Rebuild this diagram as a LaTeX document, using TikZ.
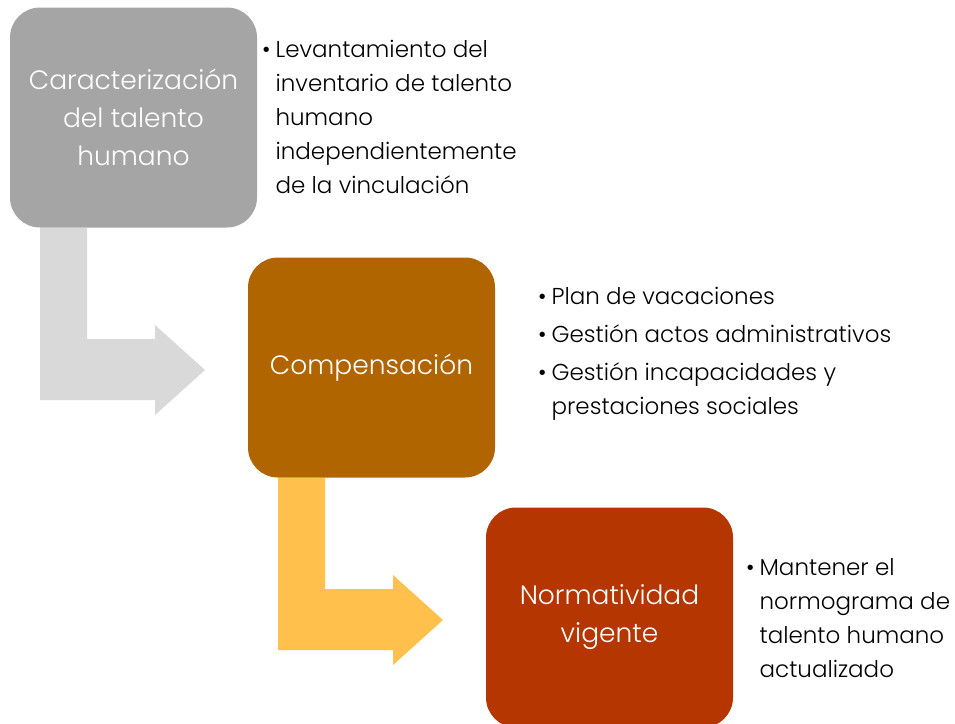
\documentclass[tikz,border=0pt]{standalone}
\usepackage{fontspec}
\setmainfont{Poppins}[UprightFont={* Light}]
\usepackage{tikz}
\tikzstyle{canvas} = [x = 1pt, y = -1pt]
\definecolor{stageGray}{RGB}{165,165,165}
\definecolor{stageOrange}{RGB}{176,101,0}
\definecolor{stageRust}{RGB}{181,54,0}
\definecolor{flowGray}{RGB}{217,217,217}
\definecolor{flowYellow}{RGB}{255,192,76}
\tikzstyle{stageBox} = [rounded corners = 30pt, minimum width = 247pt, minimum height = 220pt, text = white, align = center, inner sep = 0pt, font = \fontsize{26.5}{38}\selectfont]
\tikzstyle{bulletList} = [anchor = base west, inner sep = 0pt, text = black, font = \fontsize{23}{34}\selectfont]
\newcommand{\bentArrow}[3]{\fill [#3] (#1, #2) -- ++(47,0) -- ++(0,111) -- ++(68,0) -- ++(0,-14) -- ++(50,45) -- ++(-50,45) -- ++(0,-15) -- ++(-115,0) -- cycle;}
\begin{document}
\begin{tikzpicture}[canvas]
  \useasboundingbox (0,0) rectangle (955,723);
  \bentArrow{40}{228}{flowGray}
  \bentArrow{278}{478}{flowYellow}
  \node [stageBox, fill = stageGray] (caracter) at (133.5,117.5) {Caracterización\\del talento\\humano};
  \node [stageBox, fill = stageOrange] (compens) at (371.5,367.5) {Compensación};
  \node [stageBox, fill = stageRust] (normas) at (609.5,617.5) {Normatividad\\vigente};
  % lists beside the stages
  \node [bulletList] (caracterList) at (262,57) {\begin{tabular}[t]{@{}l@{\hspace{5pt}}l@{}}
    \textbullet & Levantamiento del\\
    & inventario de talento\\
    & humano\\
    & independientemente\\
    & de la vinculación
  \end{tabular}};
  \node [bulletList] (compensList) at (538,304) {\begin{tabular}[t]{@{}l@{\hspace{5pt}}l@{}}
    \textbullet & Plan de vacaciones\\[4pt]
    \textbullet & Gestión actos administrativos\\[4pt]
    \textbullet & Gestión incapacidades y\\
    & prestaciones sociales
  \end{tabular}};
  \node [bulletList] (normasList) at (746,575) {\begin{tabular}[t]{@{}l@{\hspace{5pt}}l@{}}
    \textbullet & Mantener el\\
    & normograma de\\
    & talento humano\\
    & actualizado
  \end{tabular}};
\end{tikzpicture}
\end{document}
